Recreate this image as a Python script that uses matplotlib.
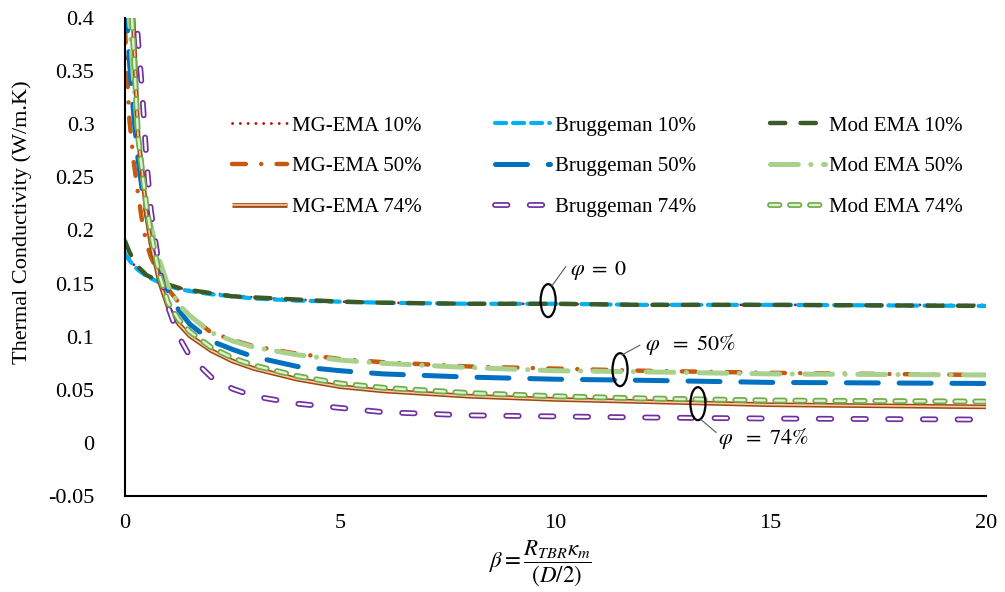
import matplotlib
matplotlib.use("Agg")
import matplotlib.pyplot as plt
import matplotlib.patheffects as pe
from matplotlib.patches import Ellipse

# beta grid, shared by every series
beta = [0, 0.1, 0.2, 0.3, 0.4, 0.5, 0.6, 0.8, 1.0, 1.25, 1.5, 2, 2.5, 3, 4, 5, 6, 8, 10, 12, 15, 20]

# thermal conductivity (W/m.K)
mg_10 = [0.180, 0.174, 0.168, 0.164, 0.160, 0.158, 0.155, 0.152, 0.149, 0.146, 0.144, 0.141,
         0.139, 0.137, 0.135, 0.133, 0.132, 0.131, 0.131, 0.130, 0.130, 0.130]
br_10 = [0.178, 0.172, 0.167, 0.163, 0.160, 0.157, 0.155, 0.151, 0.148, 0.145, 0.143, 0.140,
         0.138, 0.136, 0.134, 0.133, 0.132, 0.131, 0.131, 0.130, 0.130, 0.129]
mod_10 = [0.190, 0.180, 0.172, 0.166, 0.162, 0.158, 0.156, 0.152, 0.149, 0.146, 0.144, 0.141,
          0.138, 0.137, 0.135, 0.133, 0.132, 0.131, 0.131, 0.130, 0.130, 0.129]
mg_50 = [0.390, 0.305, 0.265, 0.235, 0.208, 0.188, 0.175, 0.158, 0.145, 0.132, 0.120, 0.104,
         0.097, 0.091, 0.084, 0.079, 0.076, 0.072, 0.070, 0.068, 0.066, 0.064]
br_50 = [0.430, 0.360, 0.310, 0.268, 0.238, 0.215, 0.196, 0.165, 0.143, 0.125, 0.112, 0.096,
         0.088, 0.081, 0.072, 0.068, 0.065, 0.062, 0.060, 0.059, 0.057, 0.056]
mod_50 = [0.450, 0.400, 0.340, 0.290, 0.255, 0.228, 0.205, 0.172, 0.148, 0.130, 0.120, 0.104,
          0.096, 0.090, 0.083, 0.078, 0.075, 0.071, 0.068, 0.067, 0.065, 0.064]
mg_74 = [0.550, 0.470, 0.390, 0.290, 0.255, 0.215, 0.188, 0.152, 0.128, 0.112, 0.101, 0.087,
         0.077, 0.070, 0.060, 0.053, 0.049, 0.044, 0.041, 0.039, 0.036, 0.034]
br_74 = [0.600, 0.520, 0.440, 0.380, 0.330, 0.265, 0.219, 0.163, 0.128, 0.100, 0.082, 0.062,
         0.051, 0.044, 0.037, 0.033, 0.029, 0.026, 0.025, 0.024, 0.023, 0.022]
mod_74 = [0.550, 0.450, 0.370, 0.290, 0.255, 0.222, 0.198, 0.158, 0.132, 0.116, 0.105, 0.090,
          0.080, 0.073, 0.063, 0.056, 0.052, 0.047, 0.044, 0.042, 0.040, 0.039]

x_ticks = [0, 5, 10, 15, 20]
y_ticks = [-0.05, 0, 0.05, 0.1, 0.15, 0.2, 0.25, 0.3, 0.35, 0.4]
y_tick_labels = ["-0.05", "0", "0.05", "0.1", "0.15", "0.2", "0.25", "0.3", "0.35", "0.4"]

plt.rcParams["font.family"] = ["Liberation Serif", "DejaVu Serif"]
plt.rcParams["mathtext.fontset"] = "stix"
plt.rcParams["lines.scale_dashes"] = False

fig = plt.figure(figsize=(10.05, 5.92), dpi=100)
ax = fig.add_axes([0.1244, 0.162, 0.8566, 0.8076])


def outline(color, width=4.2):
    return [pe.withStroke(linewidth=width, foreground=color)]


# drawn in Excel series order (row by row of the legend)
l_mg10, = ax.plot(beta, mg_10, color="#C00000", lw=2.0, ls=(0, (0.1, 5.5)),
                  dash_capstyle="round", label="MG-EMA 10%")
l_br10, = ax.plot(beta, br_10, color="#00B0F0", lw=3.0, ls=(0, (8, 5)),
                  dash_capstyle="round", label="Bruggeman 10%")
l_mod10, = ax.plot(beta, mod_10, color="#3A5A28", lw=3.2, ls=(0, (11, 11)),
                   dash_capstyle="round", label="Mod EMA 10%")
l_mg50, = ax.plot(beta, mg_50, color="#C55A11", lw=3.2, ls=(0, (10, 11, 0.1, 11)),
                  dash_capstyle="round", label="MG-EMA 50%")
l_br50, = ax.plot(beta, br_50, color="#0070C0", lw=3.6, ls=(0, (23, 15)),
                  dash_capstyle="round", label="Bruggeman 50%")
l_mod50, = ax.plot(beta, mod_50, color="#A9D18E", lw=3.6, ls=(0, (20, 9, 0.1, 9)),
                   dash_capstyle="round", label="Mod EMA 50%")
l_mg74, = ax.plot(beta, mg_74, color="#F8CBAD", lw=1.2, solid_capstyle="butt",
                  path_effects=[pe.withStroke(linewidth=3.4, foreground="#9E480E")],
                  label="MG-EMA 74%")
l_br74, = ax.plot(beta, br_74, color="white", lw=1.7, ls=(0, (9.0, 16.0)),
                  dash_capstyle="round", path_effects=outline("#7030A0"),
                  label="Bruggeman 74%")
l_mod74, = ax.plot(beta, mod_74, color="#E2F0D9", lw=1.7, ls=(0, (6.8, 7.6)),
                   dash_capstyle="round", path_effects=outline("#70AD47"),
                   label="Mod EMA 74%")

ax.set_xlim(0, 20)
ax.set_ylim(-0.05, 0.4)
ax.set_xticks(x_ticks)
ax.set_yticks(y_ticks)
ax.set_yticklabels(y_tick_labels)
ax.tick_params(axis="both", length=0, labelsize=16)
ax.tick_params(axis="y", pad=22)
ax.tick_params(axis="x", pad=13)
for side in ["top", "right"]:
    ax.spines[side].set_visible(False)
for side in ["left", "bottom"]:
    ax.spines[side].set_linewidth(1.5)
    ax.spines[side].set_color("black")

handles = [l_mg10, l_mg50, l_mg74, l_br10, l_br50, l_br74, l_mod10, l_mod50, l_mod74]
fig.legend(handles=handles, loc="upper left", bbox_to_anchor=(0.231, 0.804),
           ncol=3, frameon=False, fontsize=15, handlelength=2.65, handletextpad=0.2,
           columnspacing=3.55, labelspacing=1.02, borderpad=0, borderaxespad=0)

# phi group markers
groups = [
    (9.83, 0.134, 10.34, 0.162, (9.92, 0.148), (10.24, 0.166), r"$\varphi\;=\;0$"),
    (11.5, 0.069, 12.08, 0.093, (11.55, 0.083), (11.96, 0.092), r"$\varphi\ \ =\ 50\%$"),
    (13.31, 0.037, 13.77, 0.004, (13.38, 0.022), (13.73, 0.010), r"$\varphi\ \ =\ 74\%$"),
]
for cx, cy, tx, ty, p0, p1, txt in groups:
    ax.add_patch(Ellipse((cx, cy), 0.35, 0.031, fill=False, ec="black", lw=1.6, zorder=5))
    ax.plot([p0[0], p1[0]], [p0[1], p1[1]], color="#595959", lw=0.8, zorder=5)
    ax.text(tx, ty, txt, fontsize=16, va="center", ha="left", zorder=6)

fig.text(0.022, 0.625, "Thermal Conductivity (W/m.K)", rotation=90, fontsize=16,
         ha="center", va="center")
fig.text(0.538, 0.048, r"$\beta = \dfrac{R_{TBR}\kappa_m}{(D/2)}$", fontsize=16.5,
         ha="center", va="center")

fig.savefig("out.png", dpi=100)
